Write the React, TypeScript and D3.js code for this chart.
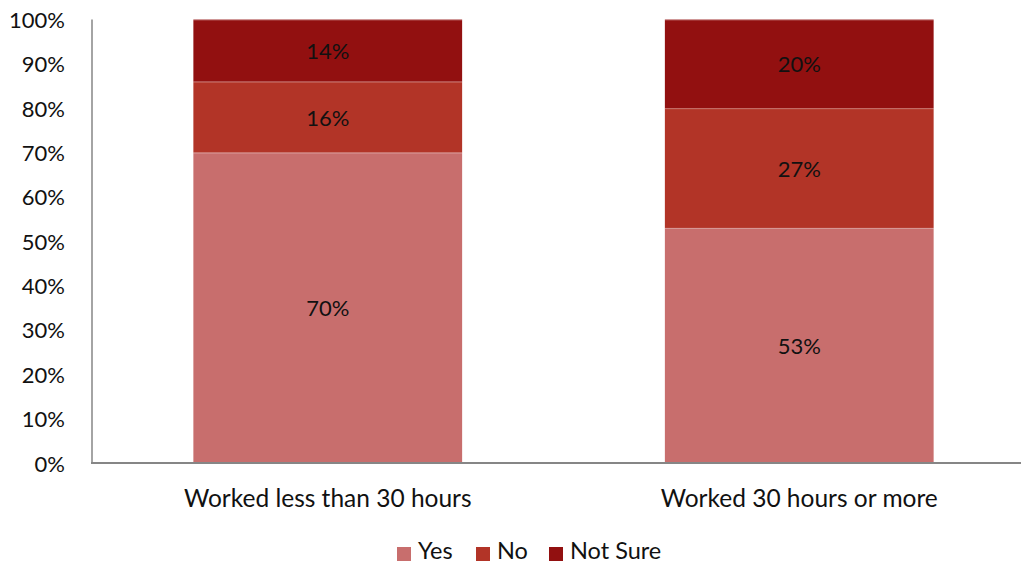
import React from "react";
import * as d3 from "d3";

const categories = ["Worked less than 30 hours", "Worked 30 hours or more"];
const seriesNames = ["Yes", "No", "Not Sure"];
const yesValues = [70, 53];
const noValues = [16, 27];
const notSureValues = [14, 20];
const yTicks = [0, 10, 20, 30, 40, 50, 60, 70, 80, 90, 100];
const colors = ["#C86E6D", "#B23427", "#921010"];

const W = 1021;
const H = 565;
const left = 92;
const plotRight = 1035;
const top = 19.5;
const bottom = 463;
const FONT = "Lato, 'Open Sans', sans-serif";
const FS_NUM = 22;
const FS_TEXT = 24.5;
const FS_LEGEND = 23.5;

export default function App() {
  const rows = categories.map((c, i) => ({
    cat: c,
    Yes: yesValues[i],
    No: noValues[i],
    "Not Sure": notSureValues[i],
  }));
  const stack = d3.stack<any>().keys(seriesNames)(rows);

  const x = d3
    .scaleBand<string>()
    .domain(categories)
    .range([left, plotRight])
    .paddingInner(0.43)
    .paddingOuter(0.215);
  const y = d3.scaleLinear().domain([0, 100]).range([bottom, top]);

  return (
    <svg
      width={W}
      height={H}
      style={{ position: "absolute", left: 0, top: 0, background: "#fff" }}
      fontFamily={FONT}
    >
      {stack.map((layer, si) =>
        layer.map((d, ci) => {
          const x0 = x(categories[ci])!;
          const y0 = y(d[1]);
          const y1 = y(d[0]);
          return (
            <g key={`${si}-${ci}`}>
              <rect
                x={x0}
                y={y0}
                width={x.bandwidth()}
                height={y1 - y0}
                fill={colors[si]}
              />
              <line
                x1={x0}
                x2={x0 + x.bandwidth()}
                y1={y0 + 0.5}
                y2={y0 + 0.5}
                stroke="#fff"
                strokeOpacity={0.3}
              />
              <text
                x={x0 + x.bandwidth() / 2}
                y={(y0 + y1) / 2}
                textAnchor="middle"
                dominantBaseline="central"
                fontSize={FS_NUM}
                fill="#111"
              >
                {`${d[1] - d[0]}%`}
              </text>
            </g>
          );
        })
      )}

      {/* axes */}
      <line x1={left} x2={left} y1={top} y2={bottom} stroke="#868686" strokeWidth={1.5} />
      <line x1={left - 1} x2={W} y1={bottom} y2={bottom} stroke="#868686" strokeWidth={2} />

      {yTicks.map((t) => (
        <text
          key={t}
          x={65}
          y={y(t)}
          textAnchor="end"
          dominantBaseline="central"
          fontSize={FS_NUM}
          fill="#111"
        >
          {`${t}%`}
        </text>
      ))}

      {categories.map((c) => (
        <text
          key={c}
          x={x(c)! + x.bandwidth() / 2}
          y={497}
          textAnchor="middle"
          dominantBaseline="central"
          fontSize={FS_TEXT}
          fill="#111"
        >
          {c}
        </text>
      ))}

      {/* legend */}
      {(() => {
        const xs = [397, 476, 549];
        return seriesNames.map((s, i) => (
          <g key={s}>
            <rect x={xs[i]} y={547} width={14} height={14} fill={colors[i]} />
            <text x={xs[i] + 21} y={559} fontSize={FS_LEGEND} fill="#111">
              {s}
            </text>
          </g>
        ));
      })()}
    </svg>
  );
}
